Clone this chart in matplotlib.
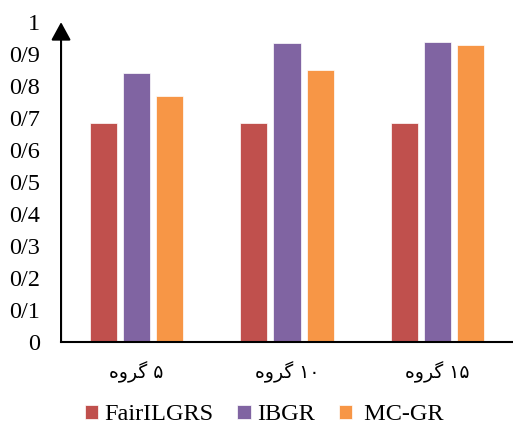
import matplotlib.pyplot as plt
import numpy as np

# shaped persian labels (visual order, presentation forms)
GROUP = "\uFEE9\uFEED\uFEAE\uFB94"
categories = [GROUP + " \u06F5", GROUP + " \u06F1\u06F0", GROUP + " \u06F1\u06F5"]
series_names = ["FairILGRS", "IBGR", "MC-GR"]
fairilgrs = [0.684, 0.684, 0.684]
ibgr = [0.840, 0.935, 0.938]
mcgr = [0.769, 0.851, 0.929]
y_ticks = [0, 0.1, 0.2, 0.3, 0.4, 0.5, 0.6, 0.7, 0.8, 0.9, 1.0]
y_tick_labels = ["0", "0/1", "0/2", "0/3", "0/4", "0/5", "0/6", "0/7", "0/8", "0/9", "1"]

COLORS = ["#C0504D", "#8064A2", "#F79646"]

plt.rcParams['font.family'] = ['Liberation Serif', 'DejaVu Sans']

px = 1 / 100
fig = plt.figure(figsize=(513 * px, 426 * px), dpi=100)
ax = fig.add_axes([0.119, 0.197, 0.881, 0.751])

x = np.arange(len(categories))
width = 0.18
step = 0.22
for i, (vals, name) in enumerate(zip([fairilgrs, ibgr, mcgr], series_names)):
    ax.bar(x + (i - 1) * step, vals, width, color=COLORS[i], label=name,
           edgecolor='white', linewidth=0.5)

ax.set_xlim(-0.5, 2.5)
ax.set_ylim(0, 1)
ax.set_yticks(y_ticks)
ax.set_yticklabels(y_tick_labels, fontsize=17.5)
ax.tick_params(axis='y', length=0, pad=15)
ax.set_xticks(x)
ax.set_xticklabels(categories, fontsize=13.5, family=['DejaVu Sans'])
ax.tick_params(axis='x', length=0, pad=14)

for s in ['top', 'right', 'left']:
    ax.spines[s].set_visible(False)
ax.spines['bottom'].set_linewidth(1.5)

# y axis with arrow head
ax.annotate('', xy=(0, 1.0), xytext=(0, 0), xycoords='axes fraction',
            arrowprops=dict(arrowstyle='-|>,head_length=1.1,head_width=0.6',
                            color='black', lw=1.5, shrinkA=0, shrinkB=0),
            annotation_clip=False)

handles, labels = ax.get_legend_handles_labels()
labels = [labels[0], labels[1], " " + labels[2]]
fig.legend(handles, labels, loc='center', bbox_to_anchor=(0.515, 0.026), ncol=3,
           frameon=False, fontsize=17.5, handlelength=0.55, handleheight=0.55,
           handletextpad=0.25, columnspacing=1.0)

plt.savefig('out.png', dpi=100)
